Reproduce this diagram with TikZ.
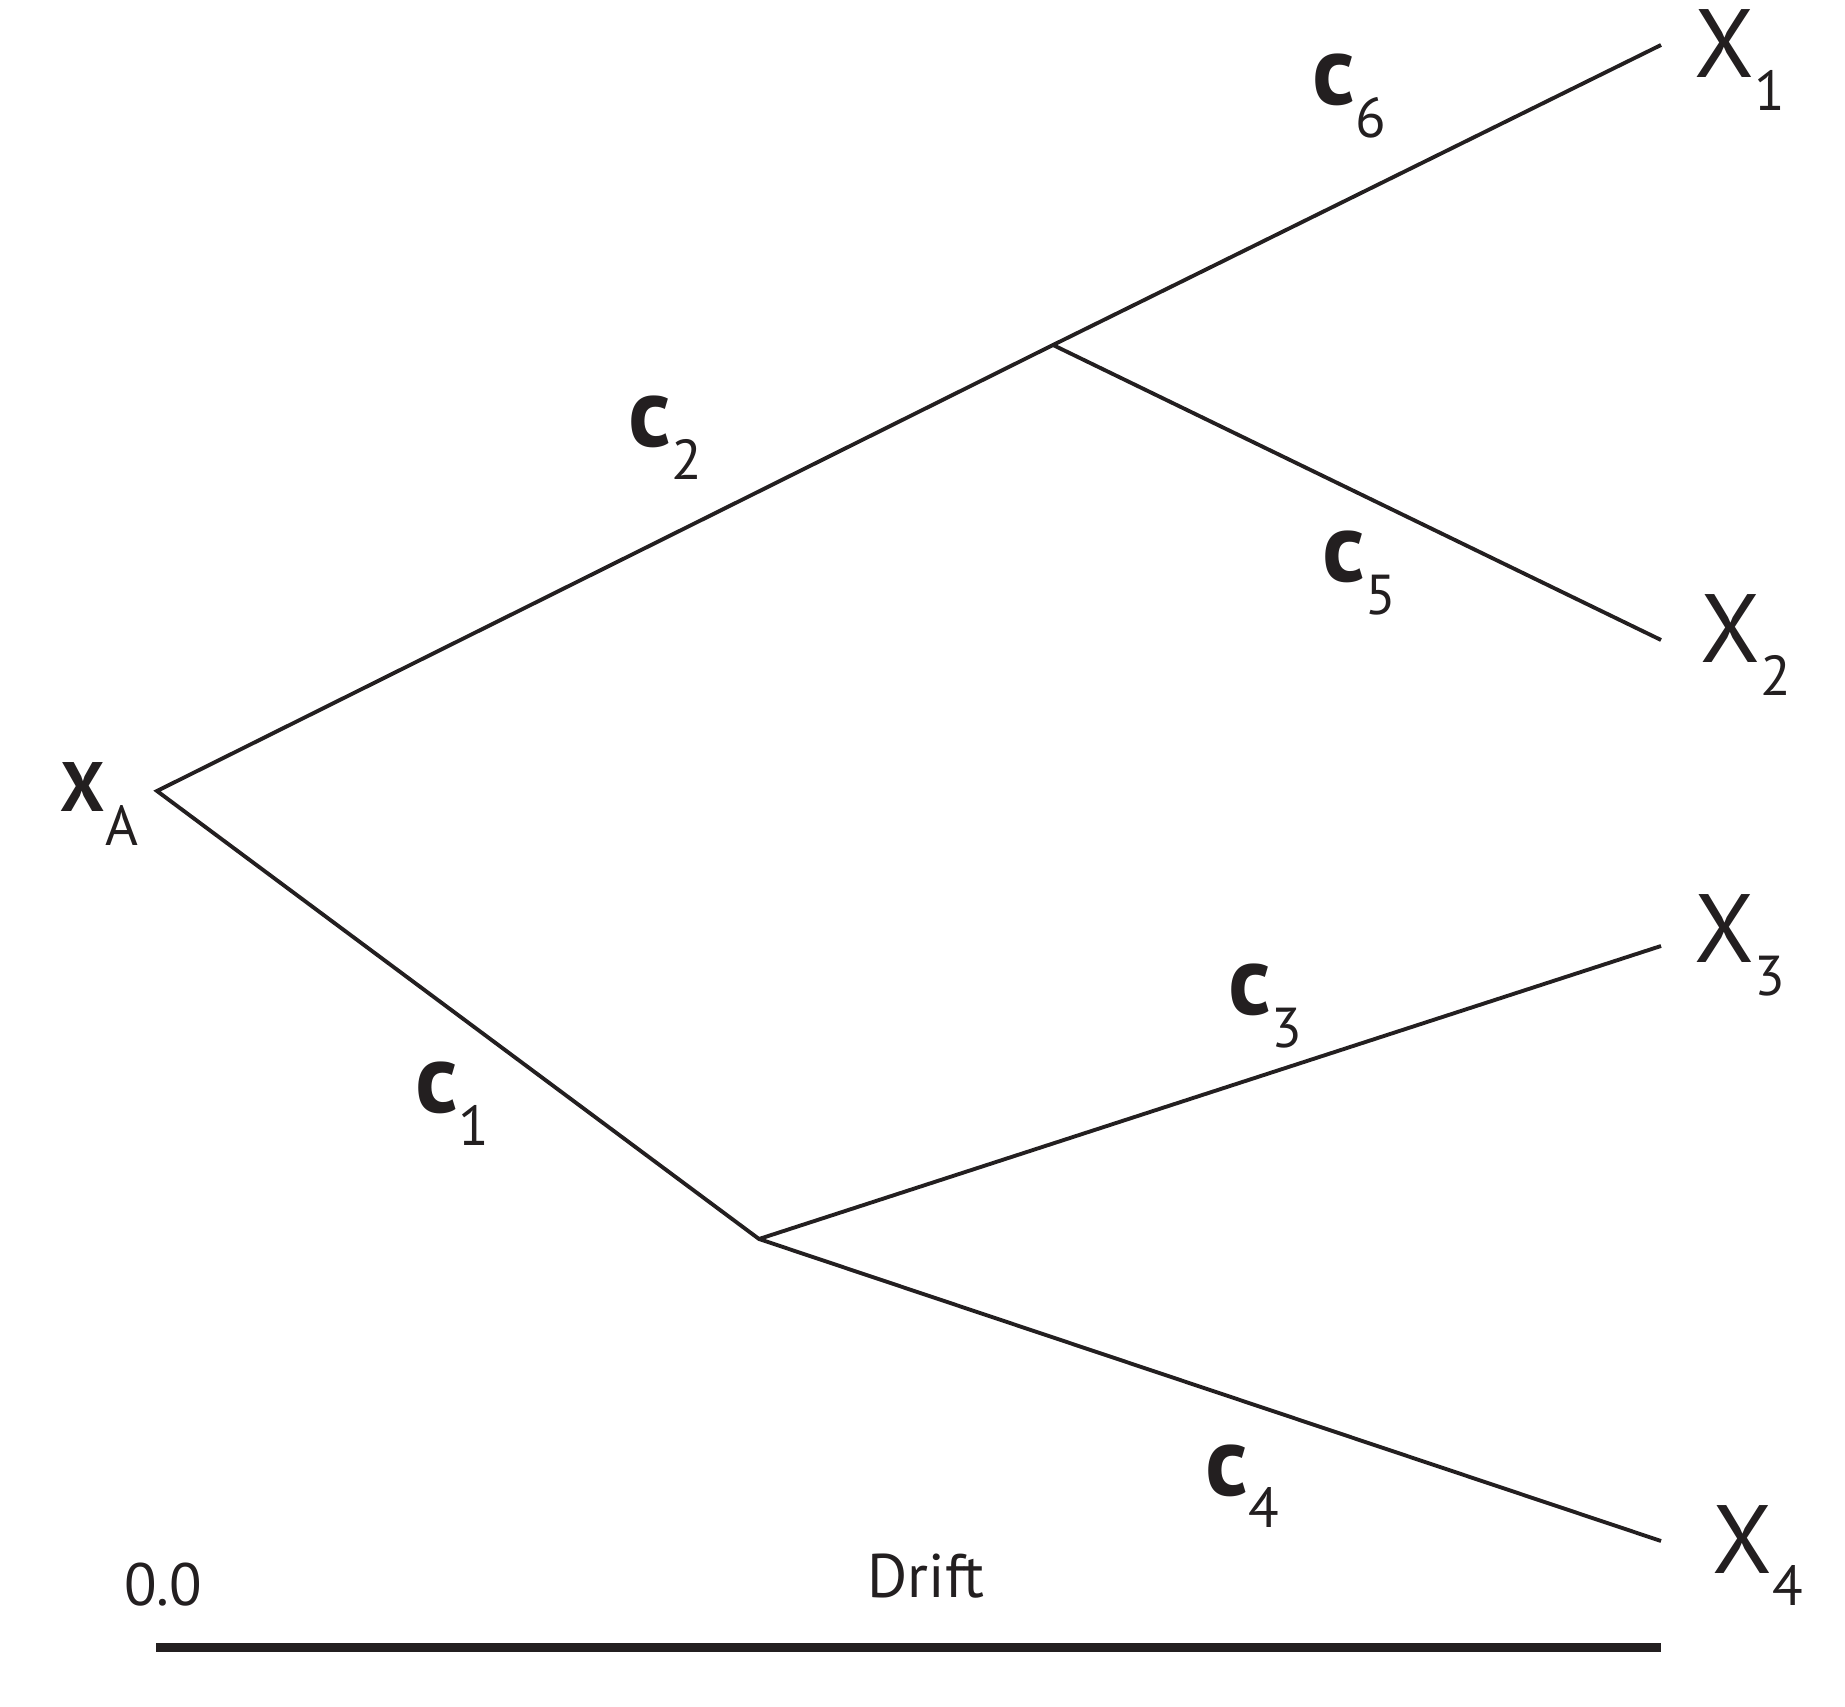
\documentclass[tikz,border=0pt]{standalone}
\usepackage{fontspec}
\setmainfont{PT Sans}
\definecolor{ink}{HTML}{231F20}
\newcommand{\tipname}[2]{{\fontsize{27.6}{30}\selectfont #1}\raisebox{-0.32cm}{\fontsize{16}{17}\selectfont #2}}
\newcommand{\brname}[2]{{\bfseries\fontsize{28}{30}\selectfont #1}\raisebox{-0.32cm}{\fontsize{16}{17}\selectfont #2}}
\begin{document}
\begin{tikzpicture}[x=0.01cm, y=-0.01cm, color=ink,
  branch/.style={line width=1.1pt},
  lab/.style={anchor=base west, inner sep=0pt}]
\useasboundingbox (0,0) rectangle (1845,1707);
% tree
\coordinate (root) at (157,791);
\coordinate (up) at (1053,345);
\coordinate (low) at (759,1239);
\coordinate (t1) at (1661,45);
\coordinate (t2) at (1661,640);
\coordinate (t3) at (1661,946);
\coordinate (t4) at (1661,1541);
\draw[branch] (t1) -- (up) -- (root) -- (low) -- (t4);
\draw[branch] (up) -- (t2);
\draw[branch] (low) -- (t3);
% tips
\node[lab] (xa) at (60,812) {{\bfseries\fontsize{19.9}{22}\selectfont X}\raisebox{-0.33cm}{\fontsize{16}{17}\selectfont A}};
\node[lab] (x1) at (1694,78) {\tipname{X}{1}};
\node[lab] (x2) at (1700,663) {\tipname{X}{2}};
\node[lab] (x3) at (1694,963) {\tipname{X}{3}};
\node[lab] (x4) at (1712,1573) {\tipname{X}{4}};
% branch lengths
\node[lab] (c1) at (415,1113) {\brname{c}{1}};
\node[lab] (c2) at (628,447) {\brname{c}{2}};
\node[lab] (c3) at (1228,1015) {\brname{c}{3}};
\node[lab] (c4) at (1205,1495) {\brname{c}{4}};
\node[lab] (c5) at (1322,582) {\brname{c}{5}};
\node[lab] (c6) at (1312,105) {\brname{c}{6}};
% scale
\coordinate (s0) at (156,1647.5);
\coordinate (s1) at (1661,1647.5);
\draw[line width=2.55pt] (s0) -- (s1);
\node[anchor=base, inner sep=0pt, font=\fontsize{17}{19}\selectfont] (zero) at (163,1605) {0.0};
\node[anchor=base, inner sep=0pt, font=\fontsize{17.5}{19}\selectfont] (drift) at (926,1597) {Drift};
\end{tikzpicture}
\end{document}
